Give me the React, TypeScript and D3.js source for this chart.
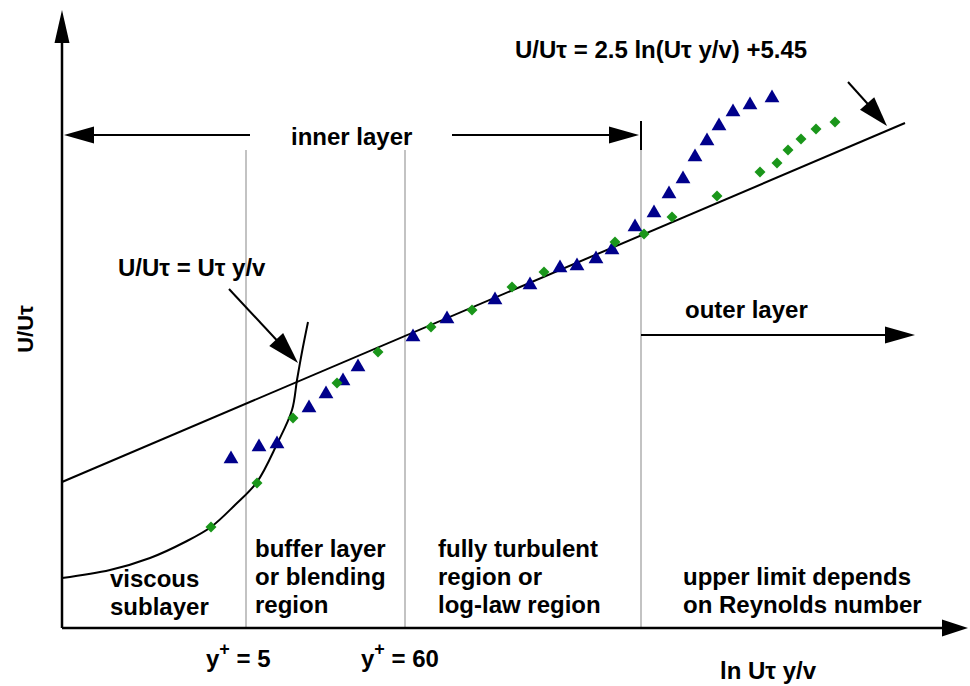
import React from 'react';
import * as d3 from 'd3';

const W = 970;
const H = 686;

// Schematic data in abstract chart units (x: ln(Uτ y/v) axis, y: U/Uτ axis)
const blueX = [169, 197, 215, 247, 264, 281, 296, 351, 385, 433, 468, 498, 515, 534, 550, 573, 592, 607, 621, 633, 645, 657, 671, 688, 710];
const blueY = [169, 181, 184, 220, 234, 247, 261, 291, 309, 328, 343, 360, 362, 369, 378, 401, 415, 434, 449, 471, 487, 502, 516, 523, 530];
const greenX = [149, 195, 231, 275, 316, 369, 410, 450, 482, 553, 582, 610, 655, 698, 715, 726, 739, 754, 773];
const greenY = [101, 145, 210, 245, 276, 301, 318, 341, 356, 386, 394, 411, 432, 456, 465, 478, 489, 499, 506];
const viscousX = [0, 48, 88, 123, 149, 173, 195, 215, 230, 235, 240, 246];
const viscousY = [50, 58, 70, 86, 101, 123, 146, 184, 218, 248, 276, 306];
const logLawX = [0, 843];
const logLawY = [146, 505];
const regionX = [184, 343, 579];
const regionTop = 478;
const innerLayerY = 493;
const innerLayerSegs = [[2, 188], [390, 577]];
const outerLayerY = 293;
const outerLayerX = [579, 853];
const viscousArrow = [[167, 339], [236, 265]];
const logArrow = [[786, 546], [825, 502]];

const x = d3.scaleLinear().domain([0, 900]).range([62, 962]);
const y = d3.scaleLinear().domain([0, 600]).range([628, 28]);

function head(tx: number, ty: number, fx: number, fy: number, len: number, hw: number) {
  const dx = tx - fx, dy = ty - fy;
  const L = Math.hypot(dx, dy);
  const ux = dx / L, uy = dy / L;
  const bx = tx - ux * len, by = ty - uy * len;
  return `M${tx},${ty}L${bx - uy * hw},${by + ux * hw}L${bx + uy * hw},${by - ux * hw}Z`;
}

const FONT = "'Liberation Sans', Arial, sans-serif";

export default function App() {
  const lineGen = d3.line<[number, number]>().x(d => x(d[0])).y(d => y(d[1]));
  const curveGen = d3.line<[number, number]>().x(d => x(d[0])).y(d => y(d[1])).curve(d3.curveCatmullRom.alpha(0.5));
  const viscousPts: [number, number][] = viscousX.map((v, i) => [v, viscousY[i]]);
  const logPts: [number, number][] = logLawX.map((v, i) => [v, logLawY[i]]);
  const tri = d3.symbol().type(d3.symbolTriangle).size(95)() as string;
  const dia = d3.symbol().type(d3.symbolSquare).size(60)() as string;

  const ax0 = x(0), ay0 = y(0);
  const textStyle: React.CSSProperties = { fontFamily: FONT, fontWeight: 'bold', fontSize: 24, fill: '#000' };

  const vaFrom = [x(viscousArrow[0][0]), y(viscousArrow[0][1])];
  const vaTo = [x(viscousArrow[1][0]), y(viscousArrow[1][1])];
  const laFrom = [x(logArrow[0][0]), y(logArrow[0][1])];
  const laTo = [x(logArrow[1][0]), y(logArrow[1][1])];

  return (
    <svg width={W} height={H} style={{ position: 'absolute', left: 0, top: 0, background: '#fff' }}>
      {/* region separators */}
      {regionX.map((r, i) => (
        <line key={i} x1={x(r)} x2={x(r)} y1={y(regionTop)} y2={ay0} stroke="#b4b4b4" strokeWidth={1.6} />
      ))}
      <line x1={x(regionX[2])} x2={x(regionX[2])} y1={y(innerLayerY) - 14} y2={y(regionTop)} stroke="#000" strokeWidth={2} />

      {/* axes */}
      <line x1={ax0} x2={945} y1={ay0} y2={ay0} stroke="#000" strokeWidth={2.5} />
      <path d={head(968, ay0, 900, ay0, 26, 8.5)} fill="#000" />
      <line x1={ax0} x2={ax0} y1={ay0} y2={40} stroke="#000" strokeWidth={2.5} />
      <path d={head(ax0, 10, ax0, 100, 33, 7.5)} fill="#000" />

      {/* inner layer arrow */}
      {innerLayerSegs.map((s, i) => (
        <line key={i} x1={x(s[0]) + (i === 0 ? 20 : 0)} x2={x(s[1]) - (i === 1 ? 20 : 0)} y1={y(innerLayerY)} y2={y(innerLayerY)} stroke="#000" strokeWidth={2} />
      ))}
      <path d={head(x(innerLayerSegs[0][0]), y(innerLayerY), 300, y(innerLayerY), 30, 8.5)} fill="#000" />
      <path d={head(x(innerLayerSegs[1][1]), y(innerLayerY), 400, y(innerLayerY), 30, 8.5)} fill="#000" />

      {/* outer layer arrow */}
      <line x1={x(outerLayerX[0])} x2={x(outerLayerX[1]) - 20} y1={y(outerLayerY)} y2={y(outerLayerY)} stroke="#000" strokeWidth={2} />
      <path d={head(x(outerLayerX[1]), y(outerLayerY), 700, y(outerLayerY), 30, 8.5)} fill="#000" />

      {/* theory curves */}
      <path d={lineGen(logPts) || ''} fill="none" stroke="#000" strokeWidth={2} />
      <path d={curveGen(viscousPts) || ''} fill="none" stroke="#000" strokeWidth={2} />

      {/* annotation arrows */}
      <line x1={vaFrom[0]} y1={vaFrom[1]} x2={vaTo[0] - 14} y2={vaTo[1] - 15} stroke="#000" strokeWidth={2} />
      <path d={head(vaTo[0], vaTo[1], vaFrom[0], vaFrom[1], 32, 9.5)} fill="#000" />
      <line x1={laFrom[0]} y1={laFrom[1]} x2={laTo[0] - 12} y2={laTo[1] - 14} stroke="#000" strokeWidth={2} />
      <path d={head(laTo[0], laTo[1], laFrom[0], laFrom[1], 30, 9.5)} fill="#000" />

      {/* data markers */}
      {blueX.map((v, i) => (
        <path key={'b' + i} d={tri} transform={`translate(${x(v)},${y(blueY[i])})`} fill="#00008b" />
      ))}
      {greenX.map((v, i) => (
        <path key={'g' + i} d={dia} transform={`translate(${x(v)},${y(greenY[i])}) rotate(45)`} fill="#1a961a" />
      ))}

      {/* texts */}
      <text x={515} y={58} style={textStyle}>U/Uτ = 2.5 ln(Uτ y/v) +5.45</text>
      <text x={291} y={145} style={textStyle}>inner layer</text>
      <text x={118} y={276} style={textStyle}>U/Uτ = Uτ y/v</text>
      <text x={685} y={318} style={textStyle}>outer layer</text>
      <text x={110} y={587} style={textStyle}>viscous</text>
      <text x={110} y={615} style={textStyle}>sublayer</text>
      <text x={255} y={557} style={textStyle}>buffer layer</text>
      <text x={255} y={585} style={textStyle}>or blending</text>
      <text x={255} y={613} style={textStyle}>region</text>
      <text x={438} y={557} style={textStyle}>fully turbulent</text>
      <text x={438} y={585} style={textStyle}>region or</text>
      <text x={438} y={613} style={textStyle}>log-law region</text>
      <text x={683} y={585} style={textStyle}>upper limit depends</text>
      <text x={683} y={613} style={textStyle}>on Reynolds number</text>
      <text x={206} y={667} style={textStyle}>y<tspan dy={-12} fontSize={18}>+</tspan><tspan dy={12}> = 5</tspan></text>
      <text x={361} y={667} style={textStyle}>y<tspan dy={-12} fontSize={18}>+</tspan><tspan dy={12}> = 60</tspan></text>
      <text x={720} y={679} style={textStyle}>ln Uτ y/v</text>
      <text transform="translate(33,329) rotate(-90)" textAnchor="middle" style={{ ...textStyle, fontSize: 22 }}>U/Uτ</text>
    </svg>
  );
}
